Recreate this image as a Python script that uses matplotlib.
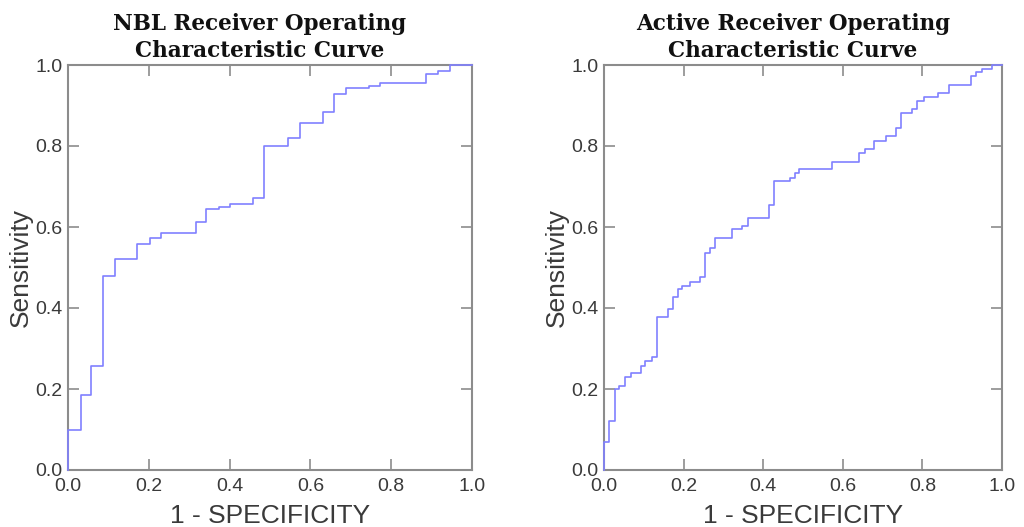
import matplotlib
matplotlib.use("Agg")
import matplotlib.pyplot as plt

# NBL ROC curve (step vertices: x = 1 - specificity, y = sensitivity)
nbl_fpr = [0.0, 0.0, 0.031, 0.031, 0.058, 0.058, 0.087, 0.087, 0.116, 0.116,
           0.172, 0.172, 0.204, 0.204, 0.230, 0.230, 0.316, 0.316, 0.342, 0.342,
           0.374, 0.374, 0.402, 0.402, 0.458, 0.458, 0.486, 0.486, 0.545, 0.545,
           0.574, 0.574, 0.631, 0.631, 0.659, 0.659, 0.688, 0.688, 0.745, 0.745,
           0.773, 0.773, 0.887, 0.887, 0.916, 0.916, 0.945, 0.945, 1.0]
nbl_tpr = [0.0, 0.100, 0.100, 0.185, 0.185, 0.257, 0.257, 0.480, 0.480, 0.521,
           0.521, 0.557, 0.557, 0.574, 0.574, 0.585, 0.585, 0.613, 0.613, 0.644,
           0.644, 0.649, 0.649, 0.657, 0.657, 0.671, 0.671, 0.801, 0.801, 0.820,
           0.820, 0.858, 0.858, 0.885, 0.885, 0.928, 0.928, 0.942, 0.942, 0.949,
           0.949, 0.956, 0.956, 0.977, 0.977, 0.986, 0.986, 1.0, 1.0]

# Active ROC curve
act_fpr = [0.0, 0.0, 0.012, 0.012, 0.028, 0.028, 0.038, 0.038, 0.053, 0.053,
           0.067, 0.067, 0.093, 0.093, 0.104, 0.104, 0.120, 0.120, 0.133, 0.133,
           0.160, 0.160, 0.174, 0.174, 0.186, 0.186, 0.196, 0.196, 0.215, 0.215,
           0.240, 0.240, 0.255, 0.255, 0.266, 0.266, 0.279, 0.279, 0.322, 0.322,
           0.347, 0.347, 0.361, 0.361, 0.415, 0.415, 0.428, 0.428, 0.467, 0.467,
           0.479, 0.479, 0.491, 0.491, 0.574, 0.574, 0.640, 0.640, 0.655, 0.655,
           0.679, 0.679, 0.708, 0.708, 0.733, 0.733, 0.747, 0.747, 0.773, 0.773,
           0.786, 0.786, 0.803, 0.803, 0.839, 0.839, 0.868, 0.868, 0.922, 0.922,
           0.935, 0.935, 0.949, 0.949, 0.975, 0.975, 1.0]
act_tpr = [0.0, 0.070, 0.070, 0.120, 0.120, 0.200, 0.200, 0.208, 0.208, 0.229,
           0.229, 0.240, 0.240, 0.258, 0.258, 0.268, 0.268, 0.278, 0.278, 0.377,
           0.377, 0.398, 0.398, 0.428, 0.428, 0.447, 0.447, 0.455, 0.455, 0.465,
           0.465, 0.477, 0.477, 0.536, 0.536, 0.547, 0.547, 0.574, 0.574, 0.595,
           0.595, 0.603, 0.603, 0.623, 0.623, 0.654, 0.654, 0.713, 0.713, 0.721,
           0.721, 0.733, 0.733, 0.742, 0.742, 0.761, 0.761, 0.783, 0.783, 0.793,
           0.793, 0.813, 0.813, 0.824, 0.824, 0.844, 0.844, 0.881, 0.881, 0.891,
           0.891, 0.912, 0.912, 0.922, 0.922, 0.931, 0.931, 0.951, 0.951, 0.972,
           0.972, 0.982, 0.982, 0.990, 0.990, 1.0, 1.0]

titles = ["NBL Receiver Operating\nCharacteristic Curve",
          "Active Receiver Operating\nCharacteristic Curve"]
tick_vals = [0.0, 0.2, 0.4, 0.6, 0.8, 1.0]
tick_labels = ["0.0", "0.2", "0.4", "0.6", "0.8", "1.0"]
xlabel = "1 - SPECIFICITY"
ylabel = "Sensitivity"

W, H = 1024, 527
fig = plt.figure(figsize=(W / 100, H / 100), dpi=100)
plt.rcParams['font.family'] = ['Liberation Sans', 'DejaVu Sans']

boxes = [(68, 65, 472, 470), (604, 65, 1002, 470)]
curves = [(nbl_fpr, nbl_tpr), (act_fpr, act_tpr)]

line_color = "#8080ff"
spine_color = "#8c8c8c"
text_color = "#3a3a3a"

for (x0, y0, x1, y1), (fx, ty), title in zip(boxes, curves, titles):
    ax = fig.add_axes([x0 / W, 1 - y1 / H, (x1 - x0) / W, (y1 - y0) / H])
    ax.plot(fx, ty, color=line_color, lw=1.2, clip_on=False, zorder=3)
    ax.set_xlim(0, 1)
    ax.set_ylim(0, 1)
    ax.set_xticks(tick_vals)
    ax.set_xticklabels(tick_labels)
    ax.set_yticks(tick_vals)
    ax.set_yticklabels(tick_labels)
    ax.tick_params(direction='in', length=8, width=1.2, color=spine_color,
                   top=True, right=True, labelsize=14, labelcolor=text_color)
    ax.tick_params(axis='x', pad=6)
    ax.tick_params(axis='y', pad=4)
    for s in ax.spines.values():
        s.set_color(spine_color)
        s.set_linewidth(1.5)
    ax.set_xlabel(xlabel, fontsize=19, color=text_color, labelpad=6)
    ax.set_ylabel(ylabel, fontsize=19, color=text_color, labelpad=2)
    ax.text(0.475, 1.008, title, transform=ax.transAxes, ha='center', va='bottom',
            fontsize=15.5, fontweight='bold', family='DejaVu Serif',
            color='#111111', linespacing=1.3)

fig.savefig("out.png", dpi=100)
